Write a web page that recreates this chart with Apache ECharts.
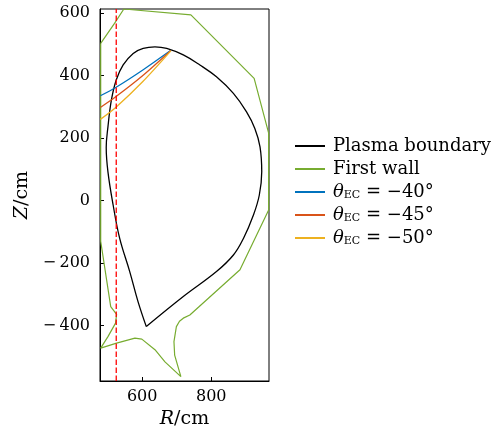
<!DOCTYPE html>
<html>
<head>
<meta charset="utf-8">
<script src="https://cdn.jsdelivr.net/npm/echarts@6/dist/echarts.min.js"></script>
<style>
  html, body { margin: 0; padding: 0; background: #fff; }
  #chart { width: 503px; height: 436px; }
</style>
</head>
<body>
<div id="chart"></div>
<script>
// 等离子体边界 (R, Z)，从下X点出发绕一圈回到X点
const boundaryR = [612, 588, 564, 535, 516, 501, 496, 501, 511, 525, 545, 574, 603, 637, 671, 719, 767, 815, 864, 902, 926, 941, 946, 939, 922, 893, 864, 815, 719, 612];
const boundaryZ = [-403, -323, -227, -121, -14, 92, 170, 236, 322, 386, 434, 471, 487, 492, 487, 466, 434, 396, 343, 284, 231, 172, 92, 18, -46, -121, -174, -227, -307, -403];

// 第一壁
const wallR = [480, 520, 547, 741, 924, 966, 966, 883, 738, 719, 708, 699, 692, 694, 712, 666, 637, 599, 579, 526, 480, 501, 523, 526, 509, 480, 480];
const wallZ = [503, 567, 613, 594, 391, 216, -30, -221, -366, -376, -386, -403, -451, -494, -563, -516, -477, -443, -440, -456, -472, -435, -392, -364, -339, -130, 503];

// EC 射线
const rayR = [479, 523.5, 602, 683];
const ray40Z = [335.5, 362, 418, 481];
const ray45Z = [298, 332, 400, 480];
const ray50Z = [260, 298, 381, 479];

// 红色虚线
const dashR = [525, 525];
const dashZ = [-577, 613];

const xTicks = [600, 800];
const yTicks = [-400, -200, 0, 200, 400, 600];

const zip = (a, b) => a.map((v, i) => [v, b[i]]);
const font = 'DejaVu Serif';
const fmt = v => (v < 0 ? '\u2212\u2009' + Math.abs(v) : String(v));

const chart = echarts.init(document.getElementById('chart'));

function line(name, data, color, extra) {
  return Object.assign({
    name: name,
    type: 'line',
    data: data,
    showSymbol: false,
    symbol: 'none',
    lineStyle: { color: color, width: 1.3 },
    itemStyle: { color: color },
    silent: true
  }, extra || {});
}

const names = ['Plasma boundary', 'First wall', 'θEC = −40°', 'θEC = −45°', 'θEC = −50°'];

const option = {
  animation: false,
  backgroundColor: '#fff',
  grid: {
    left: 100, top: 9, right: 234, bottom: 55,
    show: true, borderColor: '#000', borderWidth: 1, backgroundColor: 'transparent'
  },
  legend: {
    orient: 'vertical',
    left: 295,
    top: 137,
    padding: 0,
    itemWidth: 30,
    itemHeight: 2,
    itemGap: 5,
    icon: 'rect',
    data: names,
    formatter: function (name) {
      if (name.indexOf('θ') === 0) {
        return '{i|θ}{s|EC}{n|' + name.slice(3) + '}';
      }
      return '{n|' + name + '}';
    },
    textStyle: {
      fontFamily: font,
      fontSize: 18,
      color: '#000',
      padding: [0, 0, 0, 3],
      rich: {
        n: { fontFamily: font, fontSize: 18, color: '#000', lineHeight: 18 },
        i: { fontFamily: font, fontSize: 18, fontStyle: 'italic', color: '#000', lineHeight: 18 },
        s: { fontFamily: font, fontSize: 11, color: '#000', lineHeight: 12, verticalAlign: 'bottom', padding: [6, 0, 0, 0] }
      }
    }
  },
  xAxis: {
    type: 'value',
    min: 478,
    max: 967,
    name: '{i|R}{n|/cm}',
    nameLocation: 'middle',
    nameGap: 27,
    nameTextStyle: {
      rich: {
        i: { fontFamily: font, fontSize: 19, fontStyle: 'italic', color: '#000' },
        n: { fontFamily: font, fontSize: 19, color: '#000' }
      }
    },
    splitLine: { show: false },
    axisLine: { show: true, onZero: false, lineStyle: { color: '#000', width: 1 } },
    axisTick: { show: true, inside: true, length: 4, customValues: xTicks, lineStyle: { color: '#000' } },
    axisLabel: { customValues: xTicks, formatter: fmt, fontFamily: font, fontSize: 16, color: '#000', margin: 8 }
  },
  yAxis: {
    type: 'value',
    min: -577,
    max: 613,
    name: '{i|Z}{n|/cm}',
    nameLocation: 'middle',
    nameGap: 68,
    nameRotate: 90,
    nameTextStyle: {
      rich: {
        i: { fontFamily: font, fontSize: 19, fontStyle: 'italic', color: '#000' },
        n: { fontFamily: font, fontSize: 19, color: '#000' }
      }
    },
    splitLine: { show: false },
    axisLine: { show: true, onZero: false, lineStyle: { color: '#000', width: 1 } },
    axisTick: { show: true, inside: true, length: 4, customValues: yTicks, lineStyle: { color: '#000' } },
    axisLabel: { customValues: yTicks, formatter: fmt, fontFamily: font, fontSize: 16, color: '#000', margin: 10 }
  },
  series: [
    line('Plasma boundary', zip(boundaryR, boundaryZ), '#000000', { smooth: 0.4 }),
    line('First wall', zip(wallR, wallZ), '#77AC30', { lineStyle: { color: '#77AC30', width: 1.2 } }),
    line(names[2], zip(rayR, ray40Z), '#0072BD', { smooth: 0.3 }),
    line(names[3], zip(rayR, ray45Z), '#D95319', { smooth: 0.3 }),
    line(names[4], zip(rayR, ray50Z), '#EDB120', { smooth: 0.3 }),
    line('dash', zip(dashR, dashZ), '#ff0000', { lineStyle: { color: '#ff0000', width: 1.3, type: [5.5, 2.5] } })
  ]
};

chart.setOption(option);
</script>
</body>
</html>
